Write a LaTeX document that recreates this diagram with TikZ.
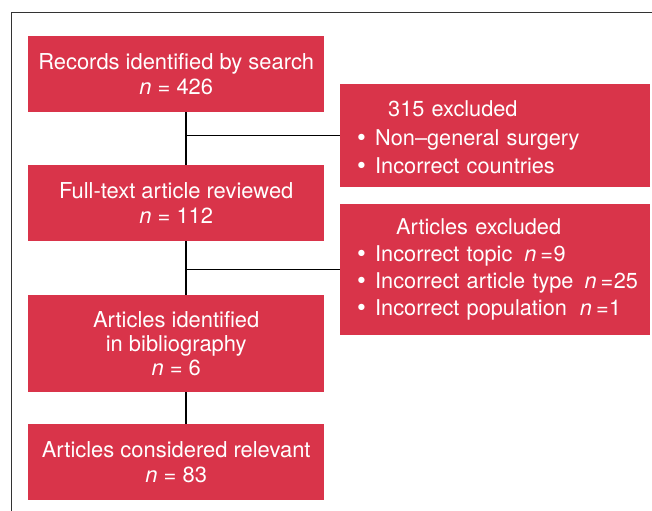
\documentclass[tikz,border=0pt]{standalone}
\usepackage{fontspec}
\setmainfont{TeX Gyre Heros}
\newfontfamily\dejavu{DejaVu Sans}
\definecolor{boxred}{HTML}{D9344A}
\newcommand\bitem{\hspace*{15bp}\makebox[20bp][l]{\dejavu •}}
\newcommand\nval[1]{\textit{n}\kern4bp=\kern0.5bp #1}
\begin{document}
\begin{tikzpicture}[x=1bp,y=-1bp,
  box/.style={fill=boxred, text=white, inner sep=0pt, anchor=north west,
    font=\fontsize{22}{25}\selectfont, align=center},
  sidebox/.style={fill=boxred, text=white, inner xsep=0pt, inner ysep=0pt,
    anchor=north west, text width=310bp, align=left},
  conn/.style={draw=black, line width=1.2bp},
  frame/.style={draw=black!80, line width=1bp}]
\useasboundingbox (0,0) rectangle (652,511);
\draw[frame] (11.5,511) -- (11.5,12.5) -- (652,12.5);
\coordinate (vx) at (186,0);
\node[box, minimum width=296bp, minimum height=76bp] (rec) at (28,36)
  {Records identified by search\\ \textit{n} = 426};
\node[box, minimum width=296bp, minimum height=76bp] (full) at (28,165)
  {Full-text article reviewed\\ \textit{n} = 112};
\node[box, minimum width=296bp, minimum height=97bp, font=\fontsize{22}{24}\selectfont] (bib) at (28,295)
  {Articles identified\\ in bibliography\\ \textit{n} = 6};
\node[box, minimum width=296bp, minimum height=76bp] (rel) at (28,424)
  {Articles considered relevant\\ \textit{n} = 83};
\node[sidebox, minimum height=103bp, font=\fontsize{21.8}{28.5}\selectfont] (exA) at (340,84)
  {\rule{0pt}{19.5bp}\hspace*{48bp}315 excluded\\
   \bitem Non–general surgery\\
   \bitem Incorrect countries};
\node[sidebox, minimum height=131bp, font=\fontsize{21.8}{27}\selectfont] (exB) at (340,204)
  {\hspace*{56bp}Articles excluded\\
   \bitem Incorrect topic\hspace{12bp}\nval{9}\\
   \bitem Incorrect article type\hspace{11bp}\nval{25}\\
   \bitem Incorrect population\hspace{13bp}\nval{1}};
\draw[conn] (rec.south -| vx) -- (full.north -| vx);
\draw[conn] (full.south -| vx) -- (bib.north -| vx);
\draw[conn] (bib.south -| vx) -- (rel.north -| vx);
\draw[conn] (vx |- exA.west) -- (exA.west);
\draw[conn] (vx |- exB.west) -- (exB.west);
\end{tikzpicture}
\end{document}
